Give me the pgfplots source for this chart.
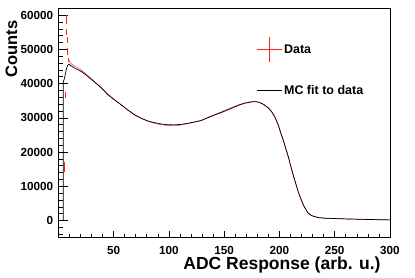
\documentclass[border=0pt]{standalone}
\usepackage{fontspec}
\setmainfont{Liberation Sans}
\usepackage{pgfplots}
\pgfplotsset{compat=1.18}
\definecolor{datared}{RGB}{255,30,30}
\begin{document}
\begin{tikzpicture}
\useasboundingbox (-58.3pt,-40.3pt) rectangle (356.7pt,237.7pt);
\pgfplotsset{common/.style={
  at={(0pt,0pt)}, anchor=south west,
  scale only axis, width=331.7pt, height=229.4pt,
  xmin=0, xmax=300, ymin=-5000, ymax=62000,
  xtick pos=bottom, ytick pos=left, tick align=inside,
  scaled y ticks=false,
  /pgf/number format/assume math mode=true,
  /pgf/number format/set thousands separator={},
  tick label style={font=\fontsize{11.7}{12}\selectfont\bfseries, inner sep=0pt},
  xticklabel style={yshift=-8.5pt},
  yticklabel style={xshift=-5pt},
  tick style={black, line width=0.6pt},
  axis line style={line width=0.7pt},
}}
% x ticks only
\begin{axis}[common,
  xtick={50,100,...,300}, minor xtick={0,10,...,300},
  ytick=\empty,
  major tick length=6.5pt, minor tick length=3.3pt,
  xlabel={ADC Response (arb. u.)},
  every axis x label/.style={at={(axis description cs:0.972,-0.1385)}, anchor=base east, inner sep=0pt, font=\fontsize{17.5}{18}\selectfont\bfseries},
]
\end{axis}
\begin{axis}[common,
  xtick=\empty,
  ytick={0,10000,...,60000}, minor ytick={-4000,-2000,...,62000},
  major tick length=10pt, minor tick length=5pt,
  ylabel={Counts},
  every axis y label/.style={at={(axis description cs:-0.1414,0.8226)}, rotate=90, anchor=center, inner sep=0pt, font=\fontsize{16.5}{17}\selectfont\bfseries},
  legend style={at={(axis description cs:0.5966,0.876)}, anchor=north west, draw=none, fill=none, inner sep=0pt, row sep=21pt, font=\fontsize{12.5}{13}\selectfont\bfseries},
  legend cell align=left,
  unbounded coords=jump,
]
\addlegendimage{datared, line width=0.5pt, legend image code/.code={\draw[draw=datared, line width=0.5pt] (-2pt,0pt)--(23pt,0pt); \draw[draw=datared, line width=0.5pt] (10.5pt,-12.5pt)--(10.5pt,12.5pt);}}
\addlegendentry{Data}
\addlegendimage{black, line width=0.7pt, legend image code/.code={\draw[draw=black, line width=0.7pt] (-2pt,0pt)--(23pt,0pt);}}
\addlegendentry{MC fit to data}
\addplot[datared, line width=0.5pt, forget plot]
  coordinates {
  (9.5,47000)(10.5,46200)(12,45700)(15,45100)(18,44500)(21,43900)(24,43100)
  (27,42300)(30,41400)(33,40500)(36,39700)(40,38500)(45,36900)(51,35300)
  (57,33700)(63,32200)(69,30800)(75,29800)(81,29000)(87,28400)(93,28000)
  (99,27800)(105,27700)(111,27900)(117,28300)(123,28700)(129,29200)(135,30100)
  (141,30900)(147,31700)(153,32500)(159,33300)(164,33900)(169,34400)(174,34700)
  (178,34900)(182,34500)(186,33800)(190,32900)(193,31700)(196,30100)(199,27800)
  (201,25700)(203.5,23400)(206,20700)(208,18600)(210,16100)(212.5,13200)
  (215,10500)(217,8400)(219.5,6200)(221.6,4500)(224,3100)(226,2150)(229,1450)
  (232,1100)(236,820)(241,680)(250,580)(261,460)(280,300)(300,180)
  };
% Data spike: vertical error segments of the first bins
\addplot[datared, line width=0.5pt, forget plot]
  coordinates {
  (5.5,14200)(5.5,17200) (nan,nan)
  (6.5,35700)(6.5,37700) (nan,nan)
  (7.3,57300)(7.3,59900) (nan,nan)
  (7.6,54300)(7.6,56100) (nan,nan)
  (7.9,52000)(7.9,53600) (nan,nan)
  (8.5,48300)(8.5,50300) (nan,nan)
  (9.2,46400)(9.2,47600)
  };
% MC fit (black)
\addplot[black, line width=0.7pt, forget plot]
  coordinates {
  (4.5,0)(4.5,40500)(5.5,41500)(6.5,43000)(7.5,44500)(8.5,45300)(9.5,45700)
  (11,45300)(13,44900)(15,44500)(18,44000)(21,43500)(24,42800)(27,42000)
  (30,41200)(36,39600)(40,38400)(45,36700)(51,35200)(57,33800)(63,32300)
  (69,30900)(75,29900)(81,29100)(87,28600)(93,28200)(99,28000)(105,27950)
  (111,28100)(117,28400)(123,28800)(129,29200)(135,30000)(141,30800)
  (147,31500)(153,32300)(159,33100)(164,33800)(169,34300)(174,34600)
  (178,34750)(182,34500)(186,33900)(190,32900)(193,31800)(196,30200)
  (199,27900)(201,25800)(203.5,23500)(206,20800)(208,18700)(210,16200)
  (212.5,13300)(215,10600)(217,8450)(219.5,6300)(221.6,4600)(224,3200)
  (226,2200)(229,1500)(232,1150)(236,850)(241,700)(250,600)(261,480)
  (280,320)(300,200)
  };
\end{axis}
\end{tikzpicture}
\end{document}
